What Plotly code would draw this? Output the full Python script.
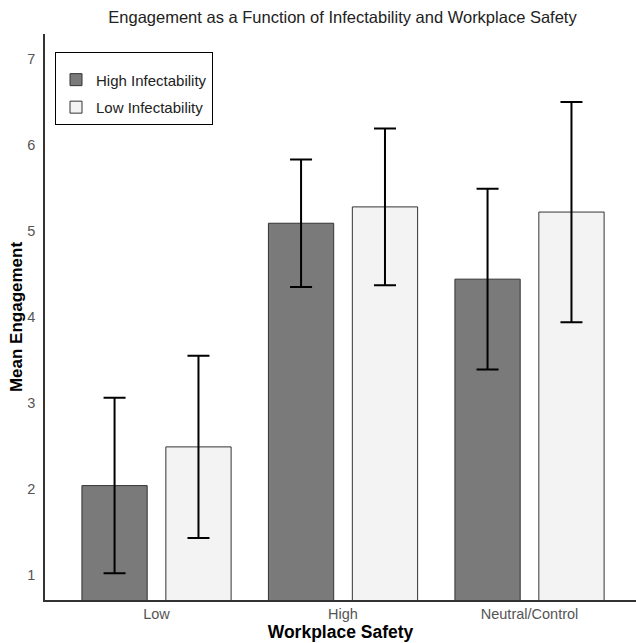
import plotly.graph_objects as go

categories = ["Low", "High", "Neutral/Control"]
high_inf_means = [2.04, 5.09, 4.44]
high_inf_err = [1.02, 0.74, 1.05]
low_inf_means = [2.49, 5.28, 5.22]
low_inf_err = [1.06, 0.91, 1.28]
series_names = ["High Infectability", "Low Infectability"]
y_ticks = [1, 2, 3, 4, 5, 6, 7]

W, H = 636, 643
L, R, T, B = 45, 0, 34, 43

fig = go.Figure()
fig.add_trace(go.Bar(
    x=categories, y=high_inf_means, name=series_names[0], legendgroup="a",
    width=0.35, offset=-0.4,
    marker=dict(color="#7a7a7a", line=dict(color="#333333", width=1)),
    error_y=dict(type="data", array=high_inf_err, color="black", thickness=2, width=11),
))
fig.add_trace(go.Bar(
    x=categories, y=low_inf_means, name=series_names[1], legendgroup="b",
    width=0.35, offset=0.05,
    marker=dict(color="#f3f3f3", line=dict(color="#333333", width=1)),
    error_y=dict(type="data", array=low_inf_err, color="black", thickness=2, width=11),
))

fig.update_layout(
    width=W, height=H,
    margin=dict(l=L, r=R, t=T, b=B),
    plot_bgcolor="white", paper_bgcolor="white",
    font=dict(family="Arial, Liberation Sans, sans-serif", size=14.5, color="#555555"),
    title=dict(text="Engagement as a Function of Infectability and Workplace Safety",
               x=342.5 / W, xanchor="center", y=1 - 17 / H, yanchor="middle",
               font=dict(size=16.5, color="#222222")),
    showlegend=True,
    legend=dict(x=(55 - L) / (W - L - R), y=1 - (52 - T) / (H - T - B), xanchor="left", yanchor="top",
                bordercolor="black", borderwidth=1, bgcolor="white",
                title=dict(text="&nbsp;", font=dict(size=8)),
                font=dict(size=15, color="#222222"), traceorder="grouped", tracegroupgap=5),
    xaxis=dict(range=[-0.598, 2.571], showline=True, linecolor="#333333", linewidth=1.5,
               ticks="", showgrid=False, zeroline=False,
               title=dict(text="<b>Workplace Safety</b>", font=dict(size=17.5, color="black"), standoff=0)),
    yaxis=dict(range=[0.71, 7.29], tickvals=y_ticks, showline=True, linecolor="#333333", linewidth=1.5,
               ticks="", showgrid=False, zeroline=False, ticklabelstandoff=5,
               title=dict(text="<b>Mean Engagement</b>", font=dict(size=17, color="black"), standoff=0)),
)

fig.write_html("out.html", config={"displayModeBar": False},
               post_script="document.body.style.margin='0';")
